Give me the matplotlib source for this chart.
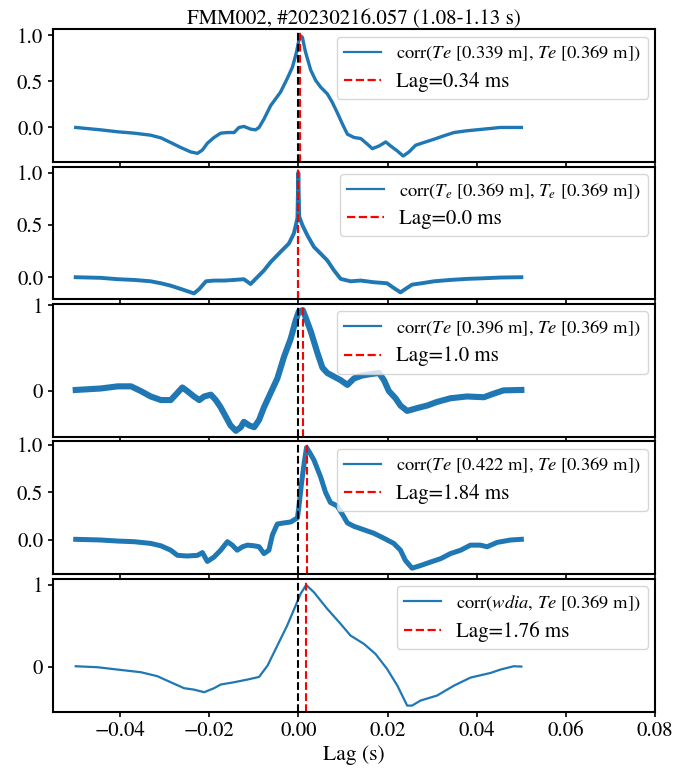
import matplotlib
matplotlib.use("Agg")
import matplotlib.pyplot as plt

plt.rcParams["font.family"] = ["STIXGeneral", "DejaVu Serif"]
plt.rcParams["mathtext.fontset"] = "stix"
plt.rcParams["font.size"] = 15
plt.rcParams["axes.linewidth"] = 1.5
plt.rcParams["xtick.major.width"] = 1.2
plt.rcParams["ytick.major.width"] = 1.2

title = "FMM002, #20230216.057 (1.08-1.13 s)"

# corr(Te[0.339 m], Te[0.369 m])
lag1_x = [-0.0499, -0.0443, -0.0405, -0.0368, -0.0331, -0.0308, -0.0286, -0.0263,
          -0.0241, -0.0226, -0.0215, -0.0204, -0.0189, -0.0174, -0.0159, -0.0144,
          -0.0133, -0.0122, -0.0107, -0.0096, -0.0088, -0.0077, -0.0062, -0.0040,
          -0.0025, -0.0013, -0.0004, 0.00034, 0.0009, 0.0016, 0.0028, 0.0039, 0.0050,
          0.0065, 0.0076, 0.0087, 0.0099, 0.0110, 0.0125, 0.0140, 0.0155, 0.0166,
          0.0181, 0.0196, 0.0207, 0.0222, 0.0235, 0.0248, 0.0263, 0.0281, 0.0304,
          0.0326, 0.0349, 0.0378, 0.0416, 0.0453, 0.0500]
corr1 = [0.0, -0.026, -0.047, -0.062, -0.084, -0.113, -0.164, -0.219,
         -0.266, -0.281, -0.245, -0.172, -0.109, -0.062, -0.055, -0.055,
         0.0, 0.011, -0.018, -0.026, 0.0, 0.091, 0.237, 0.383,
         0.529, 0.657, 0.82, 1.0, 0.98, 0.821, 0.62, 0.51, 0.438,
         0.365, 0.274, 0.164, 0.036, -0.073, -0.109, -0.12, -0.182, -0.23,
         -0.201, -0.157, -0.201, -0.255, -0.31, -0.266, -0.193, -0.164, -0.128,
         -0.091, -0.055, -0.036, -0.018, 0.0, 0.0]

# corr(Te[0.369 m], Te[0.369 m])
lag2_x = [-0.0499, -0.0443, -0.0405, -0.0368, -0.0331, -0.0308, -0.0286, -0.0256,
          -0.0234, -0.0222, -0.0207, -0.0189, -0.0166, -0.0144, -0.0122, -0.0107,
          -0.0092, -0.0077, -0.0062, -0.0040, -0.0021, -0.0010, -0.0002, 0.0,
          0.0002, 0.0009, 0.0020, 0.0035, 0.0050, 0.0065, 0.0080, 0.0095, 0.0117,
          0.0140, 0.0169, 0.0199, 0.0214, 0.0229, 0.0240, 0.0255, 0.0281, 0.0304,
          0.0341, 0.0378, 0.0416, 0.0453, 0.0500]
corr2 = [0.0, -0.006, -0.019, -0.026, -0.039, -0.058, -0.081, -0.123,
         -0.155, -0.113, -0.039, -0.032, -0.032, -0.026, -0.019, -0.065,
         0.0, 0.065, 0.145, 0.242, 0.323, 0.419, 0.565, 1.0,
         0.581, 0.50, 0.403, 0.29, 0.226, 0.161, 0.065, -0.016, -0.039,
         -0.032, -0.048, -0.058, -0.103, -0.145, -0.113, -0.071, -0.055, -0.039,
         -0.026, -0.016, -0.010, -0.003, 0.0]

# corr(Te[0.396 m], Te[0.369 m])
lag3_x = [-0.0499, -0.0443, -0.0405, -0.0375, -0.0353, -0.0331, -0.0308, -0.0286,
          -0.0271, -0.0260, -0.0249, -0.0234, -0.0222, -0.0211, -0.0196, -0.0185,
          -0.0174, -0.0163, -0.0152, -0.0140, -0.0129, -0.0122, -0.0110, -0.0099,
          -0.0088, -0.0077, -0.0062, -0.0047, -0.0032, -0.0017, -0.0006, 0.0001,
          0.0010, 0.0016, 0.0028, 0.0043, 0.0054, 0.0065, 0.0080, 0.0095, 0.0110,
          0.0125, 0.0143, 0.0162, 0.0181, 0.0192, 0.0203, 0.0218, 0.0229, 0.0244,
          0.0267, 0.0289, 0.0311, 0.0341, 0.0378, 0.0416, 0.0438, 0.0460, 0.0500]
corr3 = [0.013, 0.030, 0.055, 0.055, 0.0, -0.063, -0.105, -0.105,
         -0.021, 0.042, 0.0, -0.063, -0.105, -0.063, -0.042, -0.105,
         -0.19, -0.295, -0.401, -0.464, -0.422, -0.359, -0.401, -0.422,
         -0.338, -0.19, -0.021, 0.148, 0.401, 0.612, 0.823, 0.928,
         0.945, 0.865, 0.696, 0.443, 0.274, 0.211, 0.169, 0.127, 0.072,
         0.148, 0.181, 0.198, 0.211, 0.127, 0.0, -0.084, -0.169, -0.232,
         -0.198, -0.169, -0.127, -0.084, -0.063, -0.072, -0.030, 0.008, 0.013]

# corr(Te[0.422 m], Te[0.369 m])
lag4_x = [-0.0499, -0.0443, -0.0405, -0.0368, -0.0331, -0.0308, -0.0286, -0.0271,
          -0.0249, -0.0226, -0.0215, -0.0204, -0.0189, -0.0174, -0.0159, -0.0148,
          -0.0137, -0.0125, -0.0114, -0.0099, -0.0088, -0.0077, -0.0066, -0.0058,
          -0.0047, -0.0032, -0.0017, -0.0002, 0.0001, 0.0007, 0.0013, 0.00184,
          0.0024, 0.0035, 0.0050, 0.0061, 0.0072, 0.0087, 0.0099, 0.0110, 0.0125,
          0.0147, 0.0169, 0.0192, 0.0214, 0.0229, 0.0240, 0.0255, 0.0274, 0.0296,
          0.0319, 0.0341, 0.0364, 0.0386, 0.0408, 0.0423, 0.0446, 0.0476, 0.0500]
corr4 = [0.007, 0.0, -0.011, -0.018, -0.036, -0.061, -0.107, -0.161,
         -0.168, -0.161, -0.132, -0.225, -0.179, -0.107, -0.018, -0.054,
         -0.107, -0.071, -0.054, -0.061, -0.071, -0.143, -0.107, 0.054,
         0.168, 0.179, 0.189, 0.232, 0.339, 0.589, 0.804, 0.97,
         0.929, 0.839, 0.661, 0.50, 0.393, 0.357, 0.268, 0.179, 0.143,
         0.107, 0.071, 0.018, -0.036, -0.107, -0.214, -0.296, -0.268, -0.232,
         -0.196, -0.143, -0.107, -0.054, -0.054, -0.071, -0.025, 0.0, 0.007]

# corr(wdia, Te[0.369 m])
lag5_x = [-0.0499, -0.0450, -0.0405, -0.0353, -0.0316, -0.0286, -0.0256, -0.0234,
          -0.0211, -0.0189, -0.0174, -0.0144, -0.0114, -0.0088, -0.0069, -0.0047,
          -0.0025, -0.0006, 0.0005, 0.00176, 0.0035, 0.0065, 0.0095, 0.0117, 0.0147,
          0.0173, 0.0199, 0.0222, 0.0244, 0.0255, 0.0274, 0.0311, 0.0349, 0.0386,
          0.0431, 0.0453, 0.0483, 0.0500]
corr5 = [0.004, -0.008, -0.037, -0.069, -0.118, -0.192, -0.265, -0.282,
         -0.314, -0.265, -0.22, -0.192, -0.159, -0.127, 0.012, 0.257,
         0.502, 0.747, 0.89, 1.0, 0.91, 0.706, 0.522, 0.38, 0.278,
         0.155, -0.029, -0.233, -0.478, -0.478, -0.416, -0.355, -0.233, -0.135,
         -0.078, -0.037, 0.004, 0.0]

lags_ms = [0.34, 0.0, 1.0, 1.84, 1.76]
corr_labels = [
    r"corr($Te$ [0.339 m], $Te$ [0.369 m])",
    r"corr($T_e$ [0.369 m], $T_e$ [0.369 m])",
    r"corr($Te$ [0.396 m], $Te$ [0.369 m])",
    r"corr($Te$ [0.422 m], $Te$ [0.369 m])",
    r"corr($wdia$, $Te$ [0.369 m])",
]
yticks = [[0.0, 0.5, 1.0], [0.0, 0.5, 1.0], [0, 1], [0.0, 0.5, 1.0], [0, 1]]
line_widths = [2.4, 2.8, 4.4, 3.6, 1.6]

series_x = [lag1_x, lag2_x, lag3_x, lag4_x, lag5_x]
series_y = [corr1, corr2, corr3, corr4, corr5]

fig, axes = plt.subplots(5, 1, sharex=True, figsize=(6.97, 7.71), dpi=100)
fig.subplots_adjust(left=0.076, right=0.94, top=0.962, bottom=0.077, hspace=0.035)

for ax, xs, ys, lag, lab, yt, lw in zip(axes, series_x, series_y, lags_ms,
                                         corr_labels, yticks, line_widths):
    ax.plot(xs, ys, color="#1f77b4", lw=lw, label=lab)
    ax.axvline(0.0, color="black", ls="--", lw=1.5)
    ax.axvline(lag / 1000.0, color="red", ls="--", lw=1.5, label=f"Lag={lag} ms")
    ax.set_yticks(yt)
    leg = ax.legend(loc="upper right", fontsize=13.3, handlelength=2.0,
                    labelspacing=0.45, borderaxespad=0.4)
    leg.get_texts()[1].set_fontsize(15)
    for h in leg.legend_handles:
        h.set_linewidth(1.6)

axes[-1].set_xlim(-0.055, 0.08)
axes[-1].set_xticks([-0.04, -0.02, 0.0, 0.02, 0.04, 0.06, 0.08])
axes[-1].set_xlabel("Lag (s)", fontsize=15.5, labelpad=3)
axes[0].set_title(title, fontsize=15, pad=4)

fig.savefig("out.png", dpi=100)
